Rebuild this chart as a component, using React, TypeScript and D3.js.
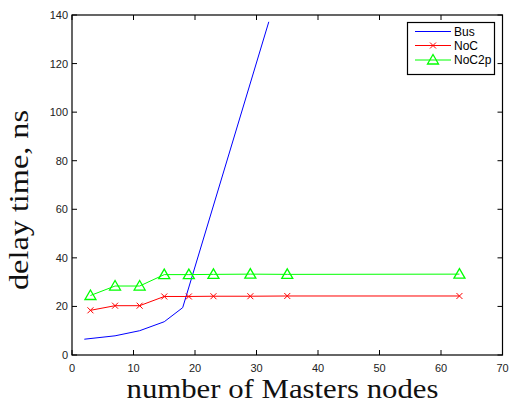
import React from 'react'
import * as d3 from 'd3'

const busX = [2, 7, 11, 15, 18, 32]
const busY = [6.5, 7.9, 10.0, 13.7, 19.5, 137.2]
const nocX = [3, 7, 11, 15, 19, 23, 29, 35, 63]
const nocY = [18.4, 20.3, 20.3, 24.1, 24.1, 24.2, 24.2, 24.3, 24.3]
const noc2pX = [3, 7, 11, 15, 19, 23, 29, 35, 63]
const noc2pY = [24.5, 28.4, 28.4, 33.1, 33.1, 33.2, 33.3, 33.2, 33.3]
const xTicks = [0, 10, 20, 30, 40, 50, 60, 70]
const yTicks = [0, 20, 40, 60, 80, 100, 120, 140]
const legendNames = ['Bus', 'NoC', 'NoC2p']

const W = 509
const H = 403
const m = { left: 72, right: 6.5, top: 15, bottom: 48 }

export default function App() {
  const x = d3.scaleLinear().domain([0, 70]).range([m.left, W - m.right])
  const y = d3.scaleLinear().domain([0, 140]).range([H - m.bottom, m.top])
  const line = d3.line<[number, number]>().x(d => x(d[0])).y(d => y(d[1]))

  const bus = busX.map((v, i) => [v, busY[i]] as [number, number])
  const noc = nocX.map((v, i) => [v, nocY[i]] as [number, number])
  const noc2p = noc2pX.map((v, i) => [v, noc2pY[i]] as [number, number])

  const x0 = x(0), x1 = x(70), y0 = y(0), y1 = y(140)
  const tick = 5
  const cross = (cx: number, cy: number, k: string) => (
    <path key={k} d={`M${cx - 3},${cy - 3}L${cx + 3},${cy + 3}M${cx - 3},${cy + 3}L${cx + 3},${cy - 3}`} stroke="#ff0000" strokeWidth={1} fill="none" />
  )
  const tri = (cx: number, cy: number, k: string) => (
    <path key={k} d={`M${cx},${cy - 5.5}L${cx + 5.5},${cy + 4}L${cx - 5.5},${cy + 4}Z`} stroke="#00ff00" strokeWidth={1.3} fill="none" />
  )

  const legX = 407.5, legY = 22.5, legW = 87, legH = 52
  const rows = [31.5, 45.5, 60]

  return (
    <svg width={W} height={H} style={{ position: 'absolute', left: 0, top: 0, background: '#fff' }}>
      <rect x={0} y={0} width={W} height={H} fill="#fff" />
      {/* ticks */}
      {xTicks.map(t => (
        <g key={'xt' + t}>
          <line x1={x(t)} x2={x(t)} y1={y0} y2={y0 - tick} stroke="#000" />
          <line x1={x(t)} x2={x(t)} y1={y1} y2={y1 + tick} stroke="#000" />
          <text x={x(t)} y={y0 + 17} textAnchor="middle" fontFamily="Liberation Sans, Arial" fontSize={11} fill="#222">{t}</text>
        </g>
      ))}
      {yTicks.map(t => (
        <g key={'yt' + t}>
          <line x1={x0} x2={x0 + tick} y1={y(t)} y2={y(t)} stroke="#000" />
          <line x1={x1} x2={x1 - tick} y1={y(t)} y2={y(t)} stroke="#000" />
          <text x={x0 - 4} y={y(t) + 4} textAnchor="end" fontFamily="Liberation Sans, Arial" fontSize={11} fill="#222">{t}</text>
        </g>
      ))}
      <path d={line(bus) || ''} stroke="#0000ff" fill="none" strokeWidth={1} />
      <path d={line(noc) || ''} stroke="#ff0000" fill="none" strokeWidth={1} />
      {noc.map((d, i) => cross(x(d[0]), y(d[1]), 'c' + i))}
      <path d={line(noc2p) || ''} stroke="#00ff00" fill="none" strokeWidth={1} />
      {noc2p.map((d, i) => tri(x(d[0]), y(d[1]), 't' + i))}
      <rect x={x0} y={y1} width={x1 - x0} height={y0 - y1} fill="none" stroke="#000" strokeWidth={1.2} />

      {/* legend */}
      <rect x={legX} y={legY} width={legW} height={legH} fill="#fff" stroke="#000" strokeWidth={1.2} />
      {legendNames.map((n, i) => {
        const ly = rows[i]
        const col = ['#0000ff', '#ff0000', '#00ff00'][i]
        return (
          <g key={n}>
            <line x1={415} x2={451} y1={ly} y2={ly} stroke={col} />
            {i === 1 && cross(433, ly, 'lc')}
            {i === 2 && tri(433, ly, 'lt')}
            <text x={454} y={ly + 4} fontFamily="Liberation Sans, Arial" fontSize={12} fill="#000">{n}</text>
          </g>
        )
      })}

      <text x={282.5} y={398} textAnchor="middle" fontFamily="Liberation Serif, serif" fontSize={27} textLength={312} lengthAdjust="spacingAndGlyphs" fill="#111">number of Masters nodes</text>
      <text transform="translate(27.5,200) rotate(-90)" textAnchor="middle" fontFamily="Liberation Serif, serif" fontSize={27} textLength={180} lengthAdjust="spacingAndGlyphs" fill="#111">delay time, ns</text>
    </svg>
  )
}
